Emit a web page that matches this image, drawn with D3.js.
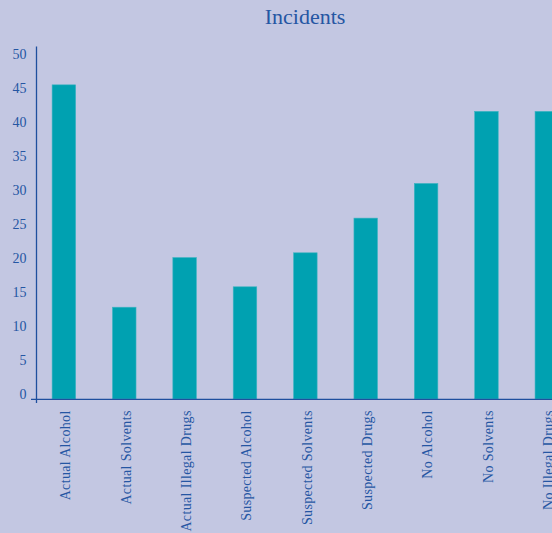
<!DOCTYPE html>
<html>
<head>
<meta charset="utf-8">
<script src="https://cdn.jsdelivr.net/npm/d3@7"></script>
<style>
  html, body { margin: 0; padding: 0; background: #c3c7e2; }
  svg { display: block; }
</style>
</head>
<body>
<svg id="chart" width="552" height="533"></svg>
<script>
// Incident counts by category
const categories = [
  "Actual Alcohol", "Actual Solvents", "Actual Illegal Drugs",
  "Suspected Alcohol", "Suspected Solvents", "Suspected Drugs",
  "No Alcohol", "No Solvents", "No Illegal Drugs"
];
const incidents = [46.2, 13.5, 20.8, 16.5, 21.5, 26.6, 31.7, 42.3, 42.3];
const yTicks = [0, 5, 10, 15, 20, 25, 30, 35, 40, 45, 50];
const chartTitle = "Incidents";

const svg = d3.select("#chart");
const W = 552, H = 533;
const textBlue = "#2556a3";
const axisBlue = "#1f4f9e";
const barColor = "#00a1b1";

svg.append("rect").attr("width", W).attr("height", H).attr("fill", "#c3c7e2");

// plot spans past the right edge; the last bar is partly cut off
const x = d3.scaleBand()
  .domain(categories)
  .range([34, 34 + 60.3 * categories.length])
  .paddingInner(0.61)
  .paddingOuter(0.3);

const y = d3.scaleLinear().domain([0, 50]).range([399, 59]);

// bars
svg.append("g").selectAll("rect")
  .data(categories)
  .join("rect")
  .attr("x", d => x(d))
  .attr("y", (d, i) => y(incidents[i]))
  .attr("width", x.bandwidth())
  .attr("height", (d, i) => y(0) - y(incidents[i]))
  .attr("fill", barColor)
  .attr("stroke", "#3fb4c2")
  .attr("stroke-width", 0.6);

// y axis: line only, labels sit with baseline on the tick value
const yAxis = d3.axisLeft(y).tickValues(yTicks).tickSize(0).tickPadding(10);
const gy = svg.append("g").attr("transform", "translate(36.5,0)").call(yAxis);
gy.select(".domain").remove();
gy.selectAll("text")
  .attr("dy", "-0.05em")
  .attr("x", -10)
  .attr("y", 0)
  .attr("fill", textBlue)
  .style("font-family", "'Liberation Serif', 'DejaVu Serif', serif")
  .style("font-size", "14px");
svg.append("line")
  .attr("x1", 36.5).attr("x2", 36.5)
  .attr("y1", 46.5).attr("y2", 403)
  .attr("stroke", axisBlue).attr("stroke-width", 1.3);

// x axis
const xAxis = d3.axisBottom(x).tickSize(0).tickPadding(0);
const gx = svg.append("g").attr("transform", "translate(0,399.3)").call(xAxis);
gx.select(".domain").remove();
gx.selectAll("text")
  .attr("transform", "translate(1.5,11) rotate(-90)")
  .attr("x", 0).attr("y", 0)
  .attr("dy", "0.35em")
  .attr("text-anchor", "end")
  .attr("fill", textBlue)
  .style("font-family", "'Liberation Serif', 'DejaVu Serif', serif")
  .style("font-size", "14px")
  .style("letter-spacing", "0.35px");
svg.append("line")
  .attr("x1", 31).attr("x2", W)
  .attr("y1", 399.3).attr("y2", 399.3)
  .attr("stroke", axisBlue).attr("stroke-width", 1.3);

// title
svg.append("text")
  .attr("x", 305).attr("y", 24)
  .attr("text-anchor", "middle")
  .attr("fill", textBlue)
  .style("font-family", "'Liberation Serif', 'DejaVu Serif', serif")
  .style("font-size", "22px")
  .text(chartTitle);
</script>
</body>
</html>
